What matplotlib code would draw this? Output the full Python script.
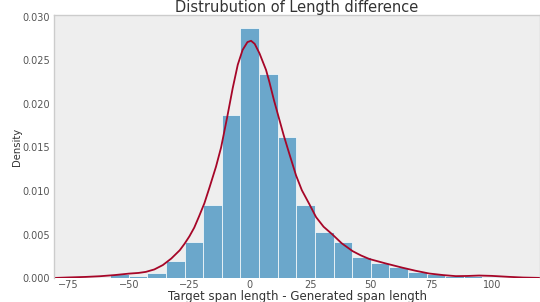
import matplotlib
matplotlib.use("Agg")
import matplotlib.pyplot as plt
import numpy as np

# Histogram data (density), bins of equal width
bin_start = -57.8
bin_width = 7.7
densities = [0.00050, 0.00026, 0.00064, 0.00198, 0.00410, 0.00840, 0.01870,
             0.02874, 0.02343, 0.01617, 0.00840, 0.00530, 0.00416, 0.00244,
             0.00170, 0.00132, 0.00076, 0.00046, 0.00026, 0.00020, 0.00018]

# KDE curve
kde_x = [-81, -75, -68, -62, -56, -50, -46, -43, -39.5, -36, -32.5, -29, -27, -25,
         -23, -21, -18.8, -16.7, -14, -11.9, -9.5, -7.1, -5, -3, -1, 0.5, 2, 4,
         6.7, 8.1, 10, 12, 14, 16.3, 19.1, 21.5, 24.6, 27.4, 30.5, 34.2, 38, 42.5,
         46, 49.4, 56, 63.1, 68.5, 74.2, 80, 85.2, 90, 94.8, 100, 107, 113, 119.6]
kde_y = [0.00002, 0.00008, 0.00014, 0.00022, 0.00035, 0.00052, 0.00060, 0.00072,
         0.00100, 0.00150, 0.00225, 0.00320, 0.00395, 0.00480, 0.00580, 0.00710,
         0.00860, 0.01040, 0.01280, 0.01500, 0.01830, 0.02180, 0.02450, 0.02620,
         0.02710, 0.02725, 0.02690, 0.02580, 0.02390, 0.02250, 0.02040, 0.01840,
         0.01640, 0.01430, 0.01180, 0.01010, 0.00850, 0.00700, 0.00590, 0.00500,
         0.00400, 0.00310, 0.00260, 0.00220, 0.00170, 0.00120, 0.00085, 0.00053,
         0.00035, 0.00023, 0.00025, 0.00030, 0.00026, 0.00015, 0.00007, 0.00003]

x_ticks = [-75, -50, -25, 0, 25, 50, 75, 100]
y_ticks = [0.000, 0.005, 0.010, 0.015, 0.020, 0.025, 0.030]

edges = bin_start + bin_width * np.arange(len(densities) + 1)

fig = plt.figure(figsize=(5.4, 3.02), dpi=100)
fig.patch.set_facecolor("white")
ax = fig.add_axes([0.1, 0.079, 0.9, 0.871])
ax.set_facecolor("#eeeeee")

ax.bar(edges[:-1], densities, width=bin_width, align="edge",
       color="#348ABD", alpha=0.7, edgecolor="white", linewidth=0.7)
ax.plot(kde_x, kde_y, color="#A60628", linewidth=1.3)

ax.set_xlim(-81, 120)
ax.set_ylim(0, 0.0302)
ax.set_xticks(x_ticks)
ax.set_yticks(y_ticks)
ax.set_yticklabels([f"{v:.3f}" for v in y_ticks])
ax.tick_params(length=0, labelsize=7, colors="#555555")
ax.tick_params(axis="x", pad=1.5)
ax.tick_params(axis="y", pad=3)
ax.grid(False)
for side in ["left", "top", "right"]:
    ax.spines[side].set_color("#cccccc")
    ax.spines[side].set_linewidth(1.0)
ax.spines["bottom"].set_visible(False)

ax.set_title("Distrubution of Length difference", fontsize=10.5, color="#333333", pad=2)
ax.set_xlabel("Target span length - Generated span length", fontsize=8.5,
              color="#333333", labelpad=0)
ax.set_ylabel("Density", fontsize=8, color="#333333", fontstretch="condensed", labelpad=0)

fig.savefig("out.png", dpi=100)
